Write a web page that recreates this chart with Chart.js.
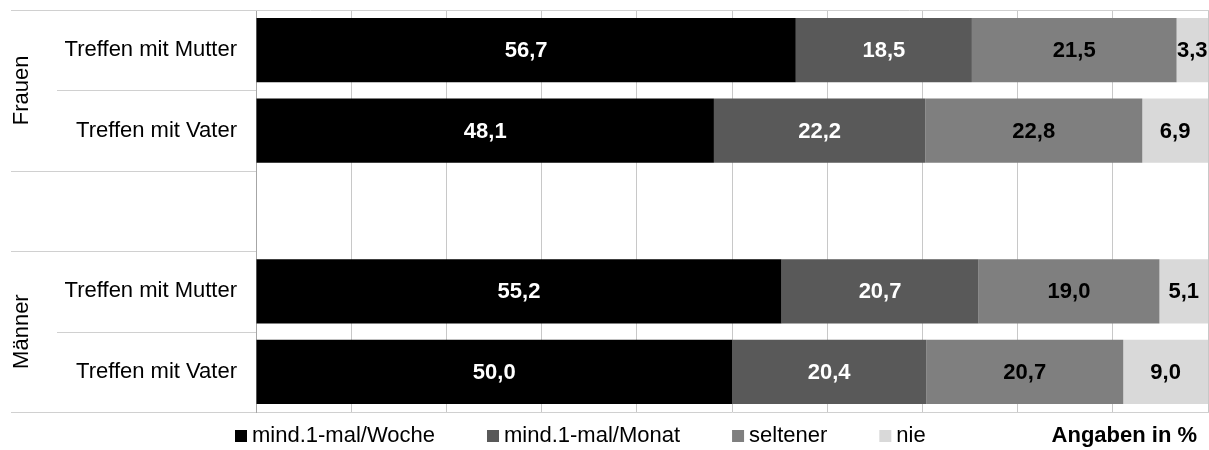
<!DOCTYPE html>
<html lang="de">
<head>
<meta charset="utf-8">
<title>Treffen mit Eltern</title>
<script src="https://cdn.jsdelivr.net/npm/chart.js@4.4.1/dist/chart.umd.min.js"></script>
<style>
    html, body { margin: 0; padding: 0; background: #fff; }
    #wrap { width: 1209px; height: 450px; position: relative; }
</style>
</head>
<body>
<div id="wrap"><canvas id="chart"></canvas></div>
<script>
// Data
const categories = ["Treffen mit Mutter", "Treffen mit Vater", "", "Treffen mit Mutter", "Treffen mit Vater"];
const groupLabels = ["Frauen", "Männer"];
const groupRows = [[0, 1], [3, 4]];
const seriesNames = ["mind.1-mal/Woche", "mind.1-mal/Monat", "seltener", "nie"];
const woche = [56.7, 48.1, null, 55.2, 50.0];
const monat = [18.5, 22.2, null, 20.7, 20.4];
const seltener = [21.5, 22.8, null, 19.0, 20.7];
const nie = [3.3, 6.9, null, 5.1, 9.0];
const xTicks = [0, 10, 20, 30, 40, 50, 60, 70, 80, 90, 100];
const note = "Angaben in %";

const colors = ["#000000", "#595959", "#7f7f7f", "#d9d9d9"];
const labelColors = ["#ffffff", "#ffffff", "#000000", "#000000"];
const FONT = "'Liberation Sans', Arial, sans-serif";
const lineColor = "#d0d0d0";

const values = [woche, monat, seltener, nie];

// Value labels inside bars
const barLabels = {
    id: "barLabels",
    afterDatasetsDraw(chart) {
        const ctx = chart.ctx;
        ctx.save();
        ctx.font = "bold 22px " + FONT;
        ctx.textAlign = "center";
        ctx.textBaseline = "middle";
        chart.data.datasets.forEach((ds, i) => {
            chart.getDatasetMeta(i).data.forEach((bar, j) => {
                const v = ds.data[j];
                if (v == null) return;
                const left = Math.min(bar.x, bar.base);
                const right = Math.min(Math.max(bar.x, bar.base), chart.chartArea.right);
                ctx.fillStyle = labelColors[i];
                ctx.fillText(v.toFixed(1).replace(".", ","), (left + right) / 2, bar.y + 1);
            });
        });
        ctx.restore();
    }
};

// Group labels, separator lines and legend
const frame = {
    id: "frame",
    beforeDatasetsDraw(chart) {
        const ctx = chart.ctx;
        const area = chart.chartArea;
        const y = chart.scales.y;
        const step = (area.bottom - area.top) / categories.length;
        ctx.save();
        ctx.strokeStyle = lineColor;
        ctx.lineWidth = 1;
        // top line over the whole width
        ctx.beginPath();
        ctx.moveTo(11, area.top + 0.5);
        ctx.lineTo(chart.width, area.top + 0.5);
        ctx.stroke();
        // row separators in the label column
        for (let k = 1; k <= categories.length; k++) {
            const py = Math.round(y.getPixelForValue(k - 1) + step / 2) + 0.5;
            const inGroup = groupRows.some(r => k - 1 >= r[0] && k - 1 < r[r.length - 1]);
            ctx.beginPath();
            ctx.moveTo(inGroup ? 57 : 11, py);
            ctx.lineTo(area.left, py);
            ctx.stroke();
        }
        ctx.restore();
    },
    afterDraw(chart) {
        const ctx = chart.ctx;
        const y = chart.scales.y;
        ctx.save();
        // group labels rotated
        ctx.fillStyle = "#000";
        ctx.font = "22px " + FONT;
        ctx.textAlign = "center";
        ctx.textBaseline = "middle";
        groupLabels.forEach((g, i) => {
            const rows = groupRows[i];
            const cy = (y.getPixelForValue(rows[0]) + y.getPixelForValue(rows[rows.length - 1])) / 2;
            ctx.save();
            ctx.translate(22, cy);
            ctx.rotate(-Math.PI / 2);
            ctx.fillText(g, 0, 0);
            ctx.restore();
        });
        // legend
        const base = 442;
        let lx = 235;
        ctx.textAlign = "left";
        ctx.textBaseline = "alphabetic";
        ctx.font = "22px " + FONT;
        seriesNames.forEach((name, i) => {
            ctx.fillStyle = colors[i];
            ctx.fillRect(lx, base - 12, 12, 12);
            ctx.fillStyle = "#000";
            ctx.fillText(name, lx + 17, base);
            lx += 17 + ctx.measureText(name).width + 52;
        });
        ctx.font = "bold 22px " + FONT;
        ctx.textAlign = "right";
        ctx.fillText(note, 1197, base);
        ctx.restore();
    }
};

const ctx = document.getElementById("chart").getContext("2d");
const chart = new Chart(ctx, {
    type: "bar",
    data: {
        labels: categories,
        datasets: seriesNames.map((name, i) => ({
            label: name,
            data: values[i],
            backgroundColor: colors[i],
            borderWidth: 0,
            categoryPercentage: 0.8,
            barPercentage: 1
        }))
    },
    options: {
        indexAxis: "y",
        responsive: true,
        maintainAspectRatio: false,
        animation: false,
        layout: { padding: { top: 10, bottom: 38, right: 1, left: 0 } },
        plugins: {
            legend: { display: false },
            tooltip: { enabled: false }
        },
        scales: {
            x: {
                stacked: true,
                min: 0,
                max: 100,
                afterBuildTicks: s => { s.ticks = xTicks.map(v => ({ value: v })); },
                afterFit: s => { s.height = 0; s.paddingLeft = 0; s.paddingRight = 0; },
                ticks: { display: false },
                grid: { color: "#c8c8c8", drawTicks: false },
                border: { color: lineColor }
            },
            y: {
                stacked: true,
                afterFit: s => { s.width = 256; s.paddingTop = 0; s.paddingBottom = 0; },
                ticks: {
                    color: "#000",
                    padding: 19,
                    font: { family: FONT, size: 22 }
                },
                grid: { display: false, drawTicks: false },
                border: { display: true, color: "#a6a6a6" }
            }
        }
    },
    plugins: [barLabels, frame]
});
</script>
</body>
</html>
